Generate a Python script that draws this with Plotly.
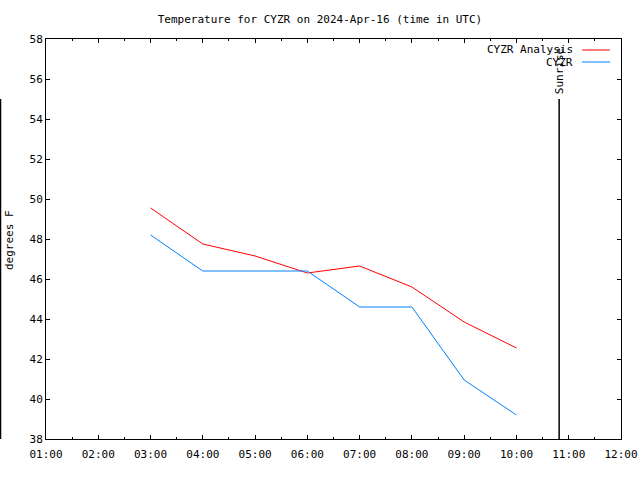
import plotly.graph_objects as go

times = ["2024-04-16 03:00", "2024-04-16 04:00", "2024-04-16 05:00", "2024-04-16 06:00",
         "2024-04-16 07:00", "2024-04-16 08:00", "2024-04-16 09:00", "2024-04-16 10:00"]
analysis_vals = [49.55, 47.75, 47.15, 46.3, 46.65, 45.6, 43.85, 42.55]
obs_vals = [48.2, 46.4, 46.4, 46.4, 44.6, 44.6, 40.95, 39.2]
sunrise_time = "2024-04-16 10:49"
x_range = ["2024-04-16 01:00", "2024-04-16 12:00"]
y_range = [38, 58]
legend_items = [("CYZR Analysis", "#ff0000"), ("CYZR", "#0080ff")]

FONT = "DejaVu Sans Mono"
L, R, T, B = 46, 19, 39, 41
PW, PH = 640 - L - R, 480 - T - B


def px_x(x):
    return (x - L) / PW


def px_y(y):
    return 1 - (y - T) / PH


fig = go.Figure()
fig.add_trace(go.Scatter(x=times, y=analysis_vals, mode="lines", name="CYZR Analysis",
                         line=dict(color="#ff0000", width=1)))
fig.add_trace(go.Scatter(x=times, y=obs_vals, mode="lines", name="CYZR",
                         line=dict(color="#0080ff", width=1)))

# sunrise line and label
fig.add_shape(type="line", xref="x", yref="y", x0=sunrise_time, x1=sunrise_time, y0=38, y1=55,
              line=dict(color="black", width=1.5))
fig.add_annotation(x=sunrise_time, y=56.4, xref="x", yref="y", text="Sunrise", textangle=-90,
                   showarrow=False, xanchor="center", yanchor="middle",
                   font=dict(family=FONT, size=11, color="black"))

# legend drawn gnuplot style: text then sample
for i, (label, color) in enumerate(legend_items):
    yp = px_y(50 + i * 12)
    fig.add_annotation(x=px_x(575), y=yp, xref="paper", yref="paper", text=label,
                       showarrow=False, xanchor="right", yanchor="middle",
                       font=dict(family=FONT, size=11, color="black"))
    fig.add_shape(type="line", xref="paper", yref="paper", x0=px_x(582), x1=px_x(610),
                  y0=yp, y1=yp, line=dict(color=color, width=1))

# y axis label
fig.add_annotation(x=px_x(10), y=px_y(240), xref="paper", yref="paper", text="degrees F",
                   showarrow=False, textangle=-90, xanchor="center", yanchor="middle",
                   font=dict(family=FONT, size=11, color="black"))

# left-edge line
fig.add_shape(type="line", xref="paper", yref="paper", x0=px_x(0.5), x1=px_x(0.5),
              y0=0, y1=px_y(99), line=dict(color="black", width=1.5))

fig.update_layout(
    width=640, height=480,
    margin=dict(l=L, r=R, t=T, b=B, autoexpand=False),
    paper_bgcolor="white", plot_bgcolor="white",
    showlegend=False,
    title=dict(text="Temperature for CYZR on 2024-Apr-16 (time in UTC)", x=0.5, xanchor="center",
               y=1 - 19 / 480, yanchor="middle", font=dict(family=FONT, size=11, color="black")),
    font=dict(family=FONT, size=11, color="black"),
)

fig.update_xaxes(type="date", range=x_range, tickformat="%H:%M", dtick=3600000,
                 tick0="2024-04-16 01:00", ticks="inside", ticklen=4, tickcolor="black",
                 showgrid=False, zeroline=False, showline=True, linecolor="black", linewidth=1,
                 mirror="ticks", tickfont=dict(family=FONT, size=11), automargin=False,
                 ticklabelstandoff=5,
                 minor=dict(dtick=1800000, ticks="inside", ticklen=2, tickcolor="black"))
fig.update_yaxes(range=y_range, dtick=2, ticks="inside", ticklen=4, tickcolor="black",
                 showgrid=False, zeroline=False, showline=True, linecolor="black", linewidth=1,
                 mirror="ticks", tickfont=dict(family=FONT, size=11), automargin=False)

fig.write_html("out.html", config={"displayModeBar": False},
               post_script="document.body.style.margin='0';document.body.style.overflow='hidden';")
